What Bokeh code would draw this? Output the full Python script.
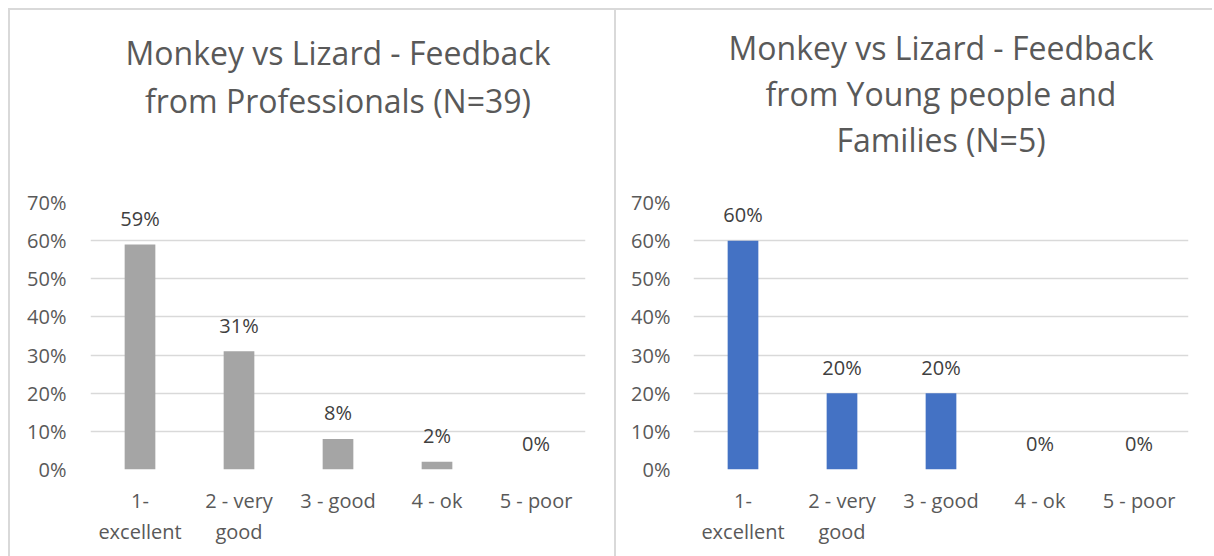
from bokeh.plotting import figure
from bokeh.layouts import row
from bokeh.models import (FactorRange, Range1d, FixedTicker, PrintfTickFormatter,
                          ColumnDataSource, Title, CategoricalAxis)
from bokeh.embed import file_html
from bokeh.resources import INLINE
from bokeh.core.properties import value

categories = ["1- excellent", "2 - very good", "3 - good", "4 - ok", "5 - poor"]
label_line1 = ["1-", "2 - very", "3 - good", "4 - ok", "5 - poor"]
label_line2 = ["excellent", "good", "", "", ""]
professionals = [59, 31, 8, 2, 0]
young_people = [60, 20, 20, 0, 0]
y_ticks = [0, 10, 20, 30, 40, 50, 60, 70]
title_left = ["Monkey vs Lizard - Feedback", "from Professionals (N=39)"]
title_right = ["Monkey vs Lizard - Feedback", "from Young people and", "Families (N=5)"]

FONT = "Open Sans"
GRID = "#d9d9d9"
TXT = "#595959"


def unique_blanks(labels):
    # FactorRange needs unique factors: pad empty labels with distinct whitespace
    out, n = [], 0
    for s in labels:
        if s == "":
            n += 1
            out.append(" " * n)
        else:
            out.append(s)
    return out


def make_chart(values, color, title_lines, width, b_left, b_right, b_bottom,
               spacer_standoff, line_standoffs, y_standoff):
    p = figure(x_range=FactorRange(*categories), y_range=Range1d(0, 70),
               width=width, height=548, output_backend="svg", toolbar_location=None,
               min_border_left=b_left, min_border_right=b_right,
               min_border_top=194, min_border_bottom=b_bottom, title=None,
               styles={"box-shadow": "inset 2px 2px 0 0 #d9d9d9"})
    p.border_fill_color = None
    p.background_fill_color = "white"
    p.outline_line_color = None

    # spacer between frame and title, then title lines (stacked outward)
    p.add_layout(Title(text=" ", text_font=FONT, text_font_size="20px",
                       standoff=spacer_standoff), "above")
    for line, s in zip(reversed(title_lines), line_standoffs):
        p.add_layout(Title(text=line, align="center", text_font=FONT,
                           text_font_size="32px", text_font_style="normal",
                           text_color=TXT, standoff=s), "above")

    p.extra_x_ranges = {"l1": FactorRange(*label_line1),
                        "l2": FactorRange(*unique_blanks(label_line2))}
    p.xaxis.visible = False

    p.yaxis.ticker = FixedTicker(ticks=y_ticks)
    p.yaxis.formatter = PrintfTickFormatter(format="%d%%")
    p.ygrid.ticker = FixedTicker(ticks=y_ticks)
    p.ygrid.grid_line_color = GRID
    p.ygrid.grid_line_width = 1.5
    p.xgrid.grid_line_color = None

    ax1 = CategoricalAxis(x_range_name="l1", major_label_standoff=17)
    ax2 = CategoricalAxis(x_range_name="l2", major_label_standoff=1)
    p.add_layout(ax1, "below")
    p.add_layout(ax2, "below")

    for ax in (ax1, ax2, p.yaxis[0]):
        ax.axis_line_color = None
        ax.major_tick_line_color = None
        ax.minor_tick_line_color = None
        ax.major_tick_out = 0
        ax.major_tick_in = 0
        ax.major_label_text_font = FONT
        ax.major_label_text_font_size = "20px"
        ax.major_label_text_color = TXT
    p.yaxis.major_label_standoff = y_standoff

    src = ColumnDataSource(dict(cat=categories, val=values,
                                label=[f"{v}%" for v in values]))
    p.vbar(x="cat", top="val", width=0.31, source=src, fill_color=color,
           line_color=None)
    p.text(x="cat", y="val", text="label", source=src, text_align="center",
           text_baseline="middle", y_offset=-26, text_font=value(FONT),
           text_font_size="20px", text_color="#404040")
    return p


left = make_chart(professionals, "#A5A5A5", title_left, 606, 82, 29, 86,
                  51, [1, 5], 24)
right = make_chart(young_people, "#4472C4", title_right, 598, 79, 24, 87,
                   12, [1, 1, 1], 23)

layout = row(left, right, spacing=0, margin=(8, 0, 0, 8))
open("out.html", "w").write(file_html(layout, INLINE))
